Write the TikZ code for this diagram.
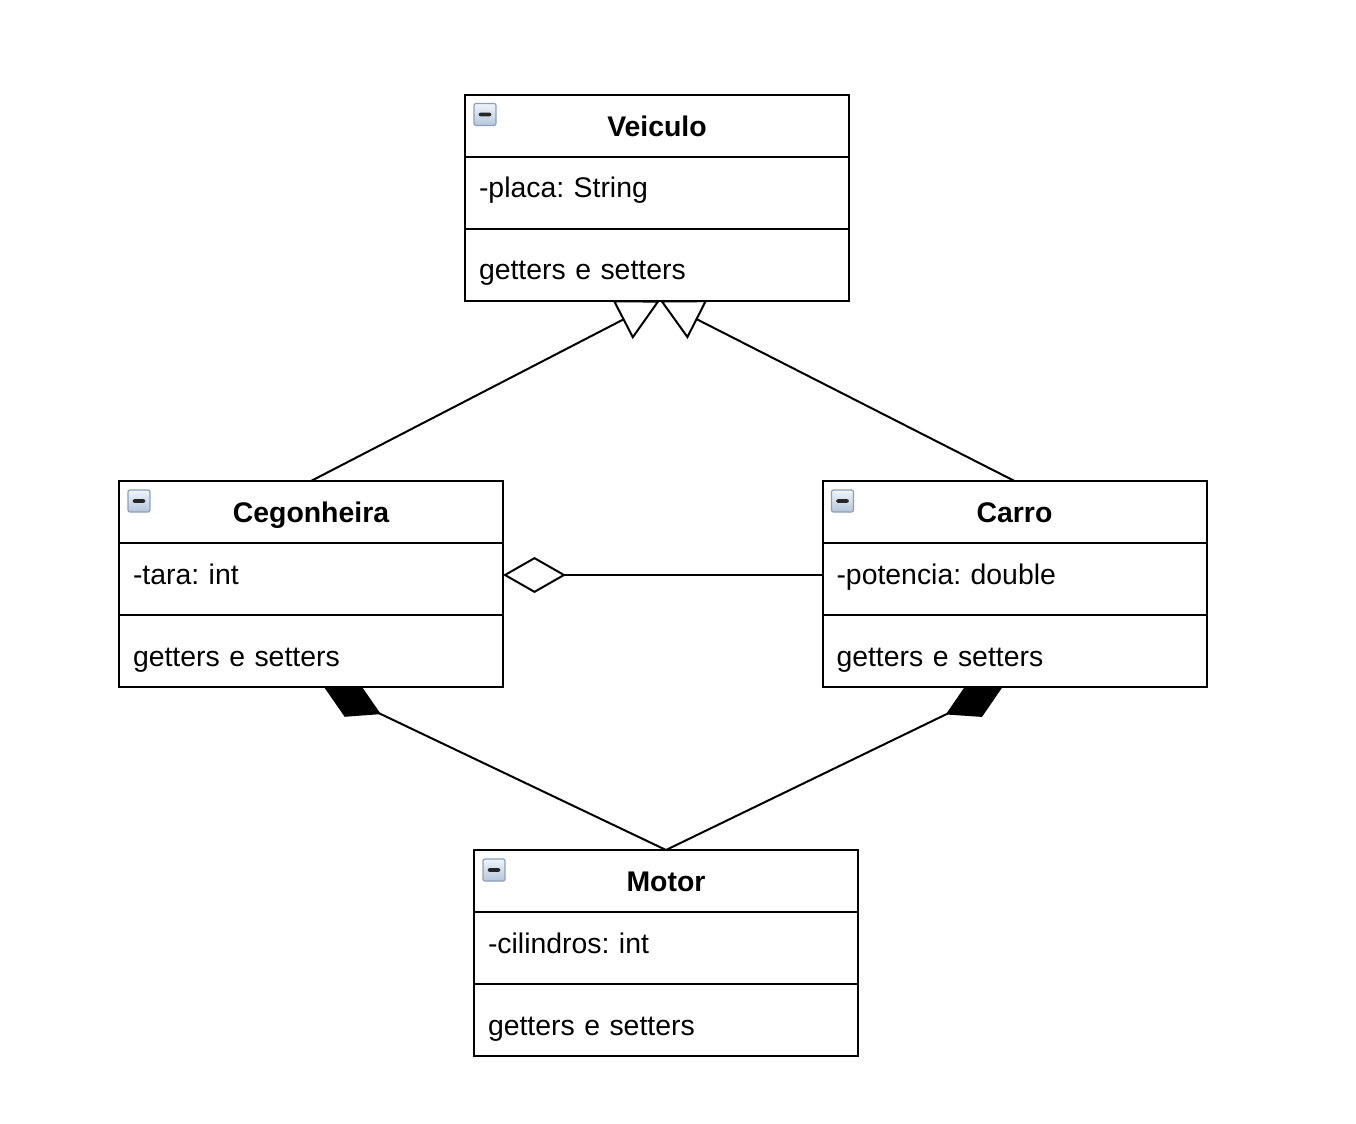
\documentclass[tikz,border=0pt]{standalone}
\usepackage{fontspec}
\setmainfont{Liberation Sans}
\frenchspacing
\usetikzlibrary{positioning,arrows.meta,backgrounds}

\definecolor{iconedge}{RGB}{140,160,185}
\definecolor{iconlight}{RGB}{240,245,250}
\definecolor{icondark}{RGB}{180,198,220}

\tikzset{
  umltitle/.style={draw, fill=white, line width=1pt, outer sep=0pt, minimum width=192pt,
    minimum height=31pt, inner sep=0pt, text height=10.5pt, text depth=0pt,
    font=\fontsize{14.2}{17}\selectfont\bfseries},
  umlattr/.style={draw, fill=white, line width=1pt, outer sep=0pt, text width=178pt,
    inner xsep=7pt, inner ysep=0pt, minimum height=36pt, align=left,
    text height=10pt, text depth=5pt, font=\fontsize{14.2}{17}\selectfont},
  umlmeth/.style={umlattr, text height=17pt, text depth=2pt},
  umlicon/.style={draw=iconedge, line width=0.6pt, rounded corners=1pt, top color=iconlight,
    bottom color=icondark, minimum size=11pt, inner sep=0pt,
    path picture={\fill[black!85] ([xshift=2.3pt,yshift=-0.9pt]path picture bounding box.west)
      rectangle ([xshift=-2.3pt,yshift=0.9pt]path picture bounding box.east);}},
  umlline/.style={line width=1pt},
}

\begin{document}
\begin{tikzpicture}[x=0.5pt,y=-0.5pt]
	\useasboundingbox (0,0) rectangle (1356,1124);

	% Veiculo
	\node[umltitle] (veiculo) at (657,125.5) {Veiculo};
	\node[umlattr, below=0pt of veiculo] (veiculoattr) {-placa: String};
	\node[umlmeth, below=0pt of veiculoattr] (veiculometh) {getters e setters};
	\node[umlicon] (veiculoicon) at ([shift={(10pt,-10pt)}]veiculo.north west) {};

	% Cegonheira
	\node[umltitle] (cegonheira) at (311,512) {Cegonheira};
	\node[umlattr, below=0pt of cegonheira] (cegonheiraattr) {-tara: int};
	\node[umlmeth, below=0pt of cegonheiraattr] (cegonheirameth) {getters e setters};
	\node[umlicon] (cegonheiraicon) at ([shift={(10pt,-10pt)}]cegonheira.north west) {};

	% Carro
	\node[umltitle] (carro) at (1014.5,512) {Carro};
	\node[umlattr, below=0pt of carro] (carroattr) {-potencia: double};
	\node[umlmeth, below=0pt of carroattr] (carrometh) {getters e setters};
	\node[umlicon] (carroicon) at ([shift={(10pt,-10pt)}]carro.north west) {};

	% Motor
	\node[umltitle] (motor) at (666,881) {Motor};
	\node[umlattr, below=0pt of motor] (motorattr) {-cilindros: int};
	\node[umlmeth, below=0pt of motorattr] (motormeth) {getters e setters};
	\node[umlicon] (motoricon) at ([shift={(10pt,-10pt)}]motor.north west) {};

	\begin{scope}[on background layer]
	\fill[white] (0,0) rectangle (1356,1124);
	% heranca
	\draw[umlline, -{Triangle[open,length=21pt,width=21.5pt]}] (cegonheira.north) -- ([xshift=1.5pt]veiculometh.south);
	\draw[umlline, -{Triangle[open,length=21pt,width=21.5pt]}] (carro.north) -- ([xshift=1.5pt]veiculometh.south);
	% agregacao
	\draw[umlline, -{Diamond[open,length=31.5pt,width=18pt]}] ([yshift=2pt]carroattr.west) -- ([yshift=2pt]cegonheiraattr.east);
	% composicao
	\draw[umlline, -{Diamond[length=31.5pt,width=18pt]}] (motor.north) -- ([xshift=6.5pt]cegonheirameth.south);
	\draw[umlline, -{Diamond[length=31.5pt,width=18pt]}] (motor.north) -- ([xshift=-6pt]carrometh.south);
	\end{scope}
\end{tikzpicture}
\end{document}
